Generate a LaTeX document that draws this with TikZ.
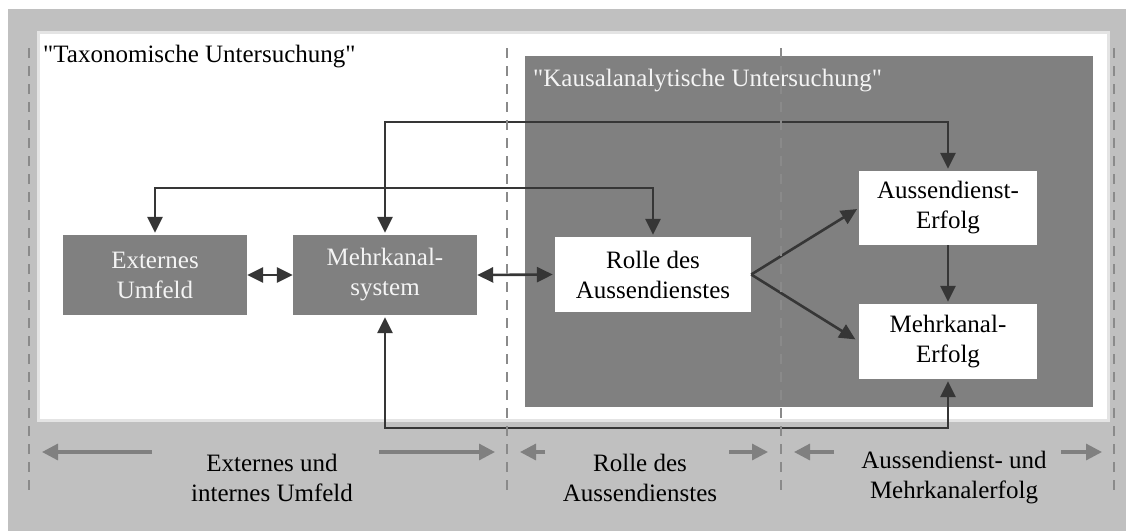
\documentclass[tikz,border=0pt]{standalone}
\usepackage{fontspec}
\setmainfont{Liberation Serif}[Ligatures=TeXOff]
\usetikzlibrary{arrows.meta,calc}
\definecolor{bgray}{HTML}{C0C0C0}
\definecolor{dgray}{HTML}{808080}
\definecolor{rimgray}{HTML}{E4E4E4}
\definecolor{linegray}{HTML}{363636}
\definecolor{dashgray}{HTML}{8A8A8A}
\definecolor{softwhite}{HTML}{F4F4F4}
\tikzset{
  txt/.style={font=\fontsize{25}{30}\selectfont},
  darkbox/.style={txt, fill=dgray, text=softwhite, minimum width=184pt, minimum height=80pt,
    align=center, inner sep=0pt},
  lightbox/.style={txt, fill=white, text=black, align=center, inner sep=0pt},
  link/.style={draw=linegray, line width=2.6pt,
    {Triangle[length=16pt,width=15pt]}-{Triangle[length=16pt,width=15pt]}, shorten <=2pt, shorten >=2pt},
  onelink/.style={draw=linegray, line width=2.6pt,
    -{Triangle[length=16pt,width=15pt]}, shorten >=2pt},
  spanarrow/.style={draw=dgray, line width=3.2pt, -{Triangle[length=16pt,width=16pt]}},
  divider/.style={draw=dashgray, line width=2pt, dash pattern=on 10pt off 8pt},
  caption/.style={txt, align=center, text=black, inner sep=0pt},
}
\begin{document}
\begin{tikzpicture}[x=1pt,y=-1pt]
\useasboundingbox (0,0) rectangle (1126,531);
% backgrounds
\fill[bgray] (8,9) rectangle (1126,531);
\draw[rimgray, line width=3pt, fill=white] (38,32) rectangle (1108,420);
\fill[dgray] (525,56) rectangle (1093,407);
\node[anchor=base west, caption] (tax) at (43,62) {"Taxonomische Untersuchung"};
\node[anchor=base west, caption, text=softwhite] (kau) at (533,86) {"Kausalanalytische Untersuchung"};

% boxes
\node[darkbox] (ext) at (155,275) {Externes\\Umfeld};
\node[darkbox] (mk) at (385,275) {Mehrkanal-\\system};
\node[lightbox, minimum width=196pt, minimum height=75pt] (ro) at (653,274.5) {Rolle des\\Aussendienstes};
\node[lightbox, minimum width=178pt, minimum height=74pt] (ae) at (948,208) {Aussendienst-\\Erfolg};
\node[lightbox, minimum width=178pt, minimum height=75pt] (me) at (948,341.5) {Mehrkanal-\\Erfolg};

% routing levels
\coordinate (topy) at (0,122);
\coordinate (midy) at (0,188);
\coordinate (boty) at (0,428);

% connectors
\draw[link] (mk.north) -- (mk.north |- topy) -| (ae.north);
\draw[link] (ext.north) -- (ext.north |- midy) -| (ro.north);
\draw[link] (mk.south) -- (mk.south |- boty) -| (me.south);
\draw[link, shorten <=0pt, shorten >=0pt] (ext.east) -- (mk.west);
\draw[link, shorten <=0pt, shorten >=2pt] (mk.east) -- (ro.west);
\draw[onelink] (ro.east) -- (ae.west);
\draw[onelink, shorten >=4pt] (ro.east) -- (me.west);
\draw[onelink] (ae.south) -- (me.north);

% bottom captions
\node[caption] (c1) at (272,478) {Externes und\\internes Umfeld};
\node[caption] (c2) at (640,478) {Rolle des\\Aussendienstes};
\node[caption] (c3) at (954,478) {Aussendienst- und\\Mehrkanalerfolg};

\coordinate (a1s) at (152,452); \coordinate (a1e) at (42,452);
\coordinate (a2s) at (379,452); \coordinate (a2e) at (495,452);
\coordinate (a3s) at (545,452); \coordinate (a3e) at (520,452);
\coordinate (a4s) at (729,452); \coordinate (a4e) at (768,452);
\coordinate (a5s) at (834,452); \coordinate (a5e) at (794,452);
\coordinate (a6s) at (1061,452); \coordinate (a6e) at (1102,452);
\foreach \i in {1,...,6} {\draw[spanarrow] (a\i s) -- (a\i e);}

% section dividers
\foreach \x in {29,507,781,1114} {\draw[divider] (\x,48) -- (\x,497);}
\end{tikzpicture}
\end{document}
